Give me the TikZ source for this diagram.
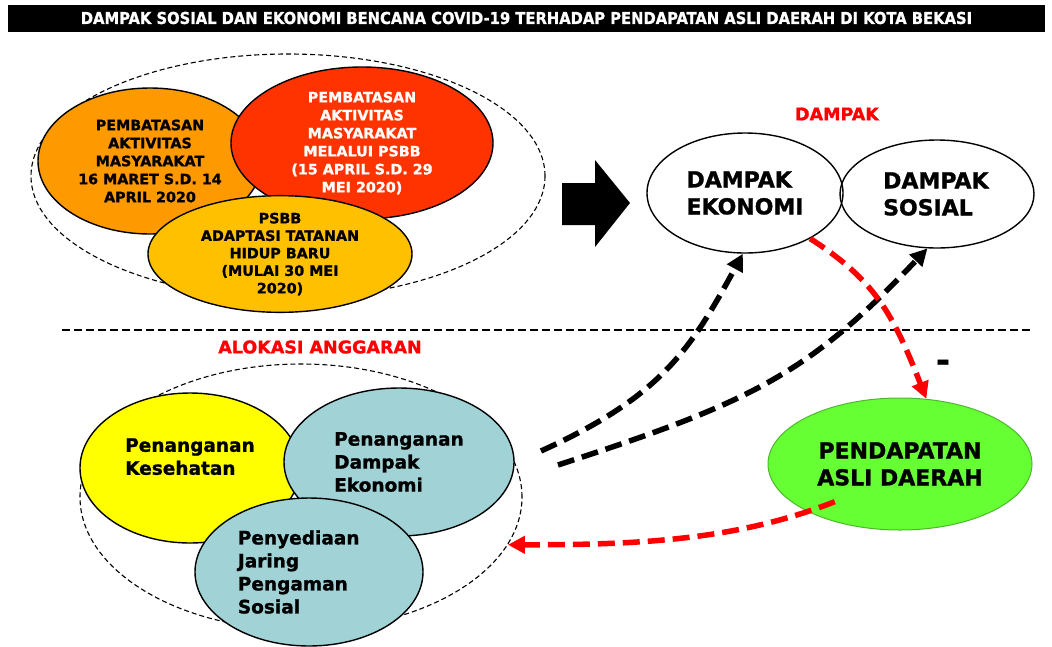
\documentclass[tikz,border=0pt]{standalone}
\usepackage{fontspec}
\setmainfont{DejaVu Sans}[BoldFeatures={FakeBold=1.2}]
\newfontfamily\condfont{DejaVu Sans Condensed}[BoldFeatures={FakeBold=1.2}]
\usepackage{tikz}
\usetikzlibrary{arrows.meta,positioning,shapes.geometric,calc}
\definecolor{psbborange}{HTML}{FF9900}
\definecolor{psbbred}{HTML}{FF3300}
\definecolor{psbbgold}{HTML}{FFC000}
\definecolor{aloyellow}{HTML}{FFFF00}
\definecolor{aloteal}{HTML}{A0D2D6}
\definecolor{padgreen}{HTML}{66FF33}
\definecolor{paddark}{HTML}{4DB82E}
\definecolor{dampred}{HTML}{FF0000}

\begin{document}
\begin{tikzpicture}[x=1pt,y=-1pt,
  blob/.style={ellipse,draw=black,line width=1.4pt,inner sep=0pt,align=center,font=\bfseries\fontsize{14.3}{18}\selectfont},
  group/.style={ellipse,draw=black,line width=1.1pt,dash pattern=on 5pt off 3pt,inner sep=0pt},
  impact/.style={ellipse,draw=black,line width=1.4pt,inner sep=0pt,align=left,font=\bfseries\fontsize{22}{27}\selectfont},
  budget/.style={ellipse,draw=black,line width=1.4pt,inner sep=0pt,align=left,font=\bfseries\fontsize{18.5}{23}\selectfont},
  head/.style={text=dampred,font=\bfseries\fontsize{17.5}{20}\selectfont},
  link/.style={line width=5.5pt,dash pattern=on 17pt off 8pt,-{Triangle[length=17pt,width=17pt]}},
]
\useasboundingbox (0,0) rectangle (1052,646);

% title bar
\node[fill=black,text=white,minimum width=1037pt,minimum height=27pt,inner sep=0pt,
  font=\condfont\bfseries\fontsize{16.4}{18}\selectfont] (title) at (526.5,18)
  {DAMPAK SOSIAL DAN EKONOMI BENCANA COVID-19 TERHADAP PENDAPATAN ASLI DAERAH DI KOTA BEKASI};

% PSBB phases
\node[group,minimum width=514pt,minimum height=244pt] (fase) at (288,176) {};
\node[blob,fill=psbborange,minimum width=224pt,minimum height=146pt] (psbb1) at (150,161)
  {PEMBATASAN\\AKTIVITAS\\MASYARAKAT\\16 MARET S.D. 14\\APRIL 2020};
\node[blob,fill=psbbred,text=white,minimum width=262pt,minimum height=152pt] (psbb2) at (362,143)
  {PEMBATASAN\\AKTIVITAS\\MASYARAKAT\\MELALUI PSBB\\(15 APRIL S.D. 29\\MEI 2020)};
\node[blob,fill=psbbgold,minimum width=264pt,minimum height=116pt,font=\bfseries\fontsize{14.3}{17.5}\selectfont] (psbb3) at (280,254)
  {PSBB\\ADAPTASI TATANAN\\HIDUP BARU\\(MULAI 30 MEI\\2020)};

% big arrow to the impacts
\fill (562,183) -- (595,183) -- (595,160) -- (630,203) -- (595,247) -- (595,225) -- (562,225) -- cycle;

% impacts
\node[head] (dampak) at (837,114) {DAMPAK};
\node[impact,minimum width=196pt,minimum height=120pt] (ekon) at (745,193) {DAMPAK\\EKONOMI};
\node[impact,minimum width=194pt,minimum height=108pt] (sos) at (937,194) {DAMPAK\\SOSIAL\hspace*{18pt}};

\draw[line width=2.4pt,dash pattern=on 8pt off 4pt] (62,330) -- (1030,330);

% budget allocation
\node[head] (alokasi) at (320,347) {ALOKASI ANGGARAN};
\node[group,minimum width=442pt,minimum height=266pt] (alok) at (301,497) {};
\node[budget,fill=aloyellow,minimum width=220pt,minimum height=150pt] (kes) at (190,468)
  {Penanganan\\Kesehatan\\{}};
\node[budget,fill=aloteal,minimum width=230pt,minimum height=148pt] (eko) at (399,462)
  {Penanganan\\Dampak\\Ekonomi};
\node[budget,fill=aloteal,minimum width=228pt,minimum height=148pt] (jps) at (309,572)
  {Penyediaan\\Jaring\\Pengaman\\Sosial\hspace*{80pt}};

% local revenue
\node[impact,align=center,fill=padgreen,draw=paddark,line width=1pt,minimum width=264pt,minimum height=132pt] (pad) at (900,464)
  {PENDAPATAN\\ASLI DAERAH};
\node[font=\bfseries\fontsize{34}{34}\selectfont] (minus) at (943,366) {-};

\coordinate (ba1) at (541,451);
\coordinate (ba2) at (558,465);
\draw[link] (ba1) .. controls (660,397) and (690,351) .. (ekon.-92);
\draw[link] (ba2) .. controls (748,403) and (807,376) .. (sos.-100);
\draw[link,dampred] (ekon.-35) .. controls (875,280) and (893,314) .. (pad.68);
\draw[link,dampred] ($(pad.center)!0.75!(pad.210)$) .. controls (740,539) and (645,545) .. (alok.-13);
\end{tikzpicture}
\end{document}
